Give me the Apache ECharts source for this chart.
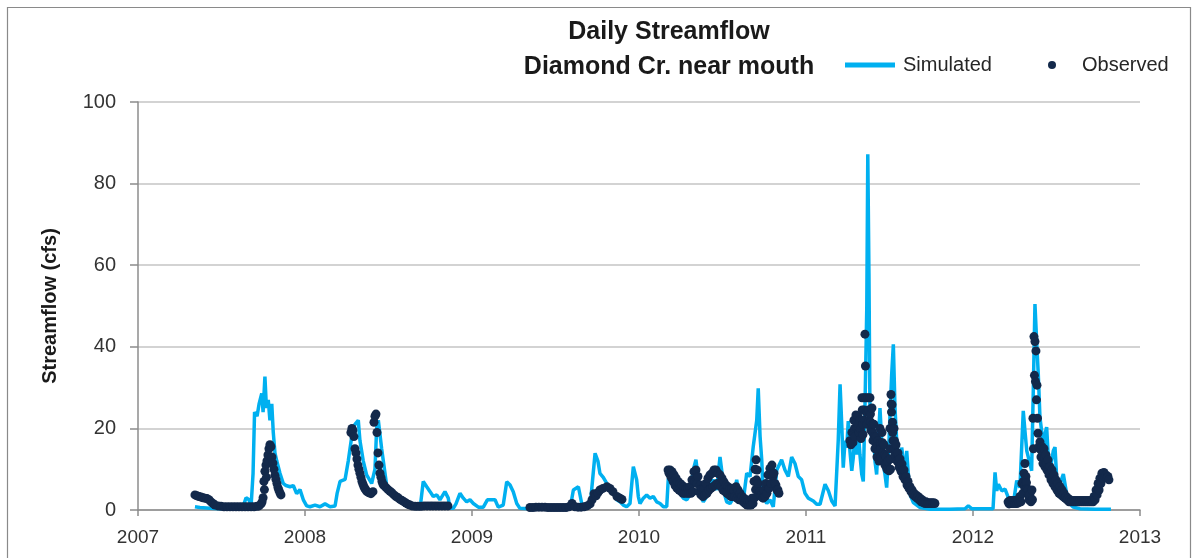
<!DOCTYPE html>
<html>
<head>
<meta charset="utf-8">
<script src="https://cdn.jsdelivr.net/npm/echarts@6/dist/echarts.min.js"></script>
<style>
html,body{margin:0;padding:0;background:#fff;}
#chart{width:1201px;height:558px;}
</style>
</head>
<body>
<div id="chart"></div>
<script>
// ---- Data (decimal years, streamflow in cfs) ----
var titleLines = ['Daily Streamflow', 'Diamond Cr. near mouth'];
var seriesNames = ['Simulated', 'Observed'];
var yAxisName = 'Streamflow (cfs)';

var simYear = [
2007.341,2007.371,2007.431,2007.491,2007.551,2007.611,2007.635,2007.647,2007.665,2007.677,
2007.689,2007.698,2007.713,2007.725,2007.741,2007.749,2007.760,2007.769,2007.780,2007.790,
2007.801,2007.810,2007.820,2007.831,2007.850,2007.870,2007.886,2007.910,2007.930,2007.950,
2007.970,2007.990,2008.010,2008.030,2008.060,2008.090,2008.120,2008.150,2008.180,2008.192,
2008.210,2008.240,2008.259,2008.280,2008.299,2008.319,2008.329,2008.349,2008.369,2008.399,
2008.419,2008.429,2008.439,2008.459,2008.489,2008.509,2008.549,2008.609,2008.629,2008.659,
2008.689,2008.708,2008.729,2008.749,2008.768,2008.789,2008.808,2008.838,2008.858,2008.868,
2008.888,2008.904,2008.928,2008.948,2008.968,2008.988,2009.008,2009.038,2009.068,2009.092,
2009.118,2009.138,2009.157,2009.187,2009.208,2009.228,2009.247,2009.268,2009.287,2009.347,
2009.467,2009.587,2009.607,2009.637,2009.657,2009.677,2009.707,2009.737,2009.754,2009.766,
2009.786,2009.807,2009.826,2009.846,2009.866,2009.886,2009.906,2009.926,2009.946,2009.966,
2009.976,2009.986,2009.996,2010.006,2010.026,2010.046,2010.066,2010.086,2010.106,2010.126,
2010.146,2010.166,2010.175,2010.186,2010.205,2010.226,2010.246,2010.265,2010.286,2010.305,
2010.325,2010.341,2010.355,2010.365,2010.385,2010.405,2010.425,2010.445,2010.465,2010.485,
2010.495,2010.505,2010.525,2010.545,2010.565,2010.585,2010.605,2010.625,2010.645,2010.665,
2010.684,2010.705,2010.714,2010.725,2010.735,2010.744,2010.765,2010.784,2010.804,2010.825,
2010.854,2010.874,2010.894,2010.914,2010.934,2010.954,2010.974,2010.994,2011.014,2011.044,
2011.064,2011.084,2011.114,2011.134,2011.154,2011.174,2011.193,2011.204,2011.214,2011.223,
2011.234,2011.244,2011.253,2011.263,2011.274,2011.283,2011.293,2011.304,2011.313,2011.323,
2011.334,2011.343,2011.353,2011.364,2011.370,2011.377,2011.383,2011.393,2011.403,2011.413,
2011.423,2011.433,2011.443,2011.453,2011.463,2011.473,2011.483,2011.493,2011.503,2011.513,
2011.523,2011.533,2011.543,2011.553,2011.563,2011.573,2011.583,2011.593,2011.603,2011.613,
2011.623,2011.643,2011.683,2011.743,2011.862,2011.952,2011.972,2011.994,2012.120,2012.132,
2012.142,2012.152,2012.172,2012.192,2012.211,2012.222,2012.241,2012.262,2012.281,2012.301,
2012.311,2012.322,2012.341,2012.351,2012.361,2012.371,2012.381,2012.391,2012.401,2012.411,
2012.421,2012.431,2012.441,2012.451,2012.461,2012.481,2012.491,2012.501,2012.521,2012.541,
2012.561,2012.581,2012.601,2012.641,2012.731,2012.826
];
var simCfs = [
0.8,0.6,0.4,0.3,0.3,0.3,1.5,3,2.5,0.8,
9,24,23,26,28.6,24,32.7,25,27,22,
26,19,14,12,9,6.5,6,5.7,6,4,
5,2.5,1,0.8,1.2,0.8,1.5,0.8,1,4,
7,7.5,12,18,21,22,17,12,8.6,6.5,
10,20,22,15,6,4.9,3.3,1,0.8,0.5,
0.4,7,5.7,4.5,3.3,3.7,2.5,4.5,2.9,0.4,
0.4,1.5,4.1,2.9,2.0,2.5,1.6,0.7,0.7,2.5,
2.5,2.5,0.7,1.2,6.9,6.1,4.5,1.6,0.4,0.3,
0.3,0.3,4.9,5.7,1.6,0.4,0.8,13.9,12,9,
8,6.5,4.9,4.1,2.5,2.0,1.2,0.8,1.6,10.6,
11,7.4,3.3,1.6,2.9,3.7,2.9,3.3,2.0,1.6,
0.8,0.8,7.4,9.8,8.2,5.3,4.1,2.9,2.5,3.7,
9.8,12.3,7.4,4.1,2.0,3.3,6.5,7.4,4.9,13,
9.8,4.9,2.0,1.6,2.9,7.4,2.0,2.5,9.0,8.2,
15.5,22,29.8,18,12.3,3.3,1.6,2.5,0.8,9.8,
12.3,9.8,8.2,13,11.4,8.2,7.4,4.1,2.9,2.2,
1.4,1.4,6.3,4.7,2.2,1.0,17,30.8,21,10.4,
17,15.3,21.8,14.5,9.6,12.8,18.5,13.6,19.4,13.6,
8.7,7.0,25,49.6,87.2,57.9,23.4,16.9,21,12,
8.7,17,25,17,11.3,8.7,5.5,12.8,23.4,33.2,
40.6,25,17,12.8,9.6,15.3,12,7.9,14.5,8.7,
3.8,1.8,0.6,0.2,0.2,0.3,1.0,0.3,0.3,9.2,
4.7,6.3,4.7,5.1,3.1,1.1,1.5,7.2,5.5,24.3,
19.4,14.5,11.3,9.6,29.4,50.5,41.4,33.2,22.6,19.4,
14.5,18.6,20.3,12.9,9.6,14.5,15.4,8.0,6.4,8.8,
3.9,1.5,0.7,0.3,0.2,0.2
];

// Observed, 2007-2009
var obsYear = [
2007.341,2007.353,2007.365,2007.377,2007.389,2007.401,2007.413,2007.425,2007.437,2007.449,
2007.461,2007.479,2007.497,2007.515,2007.533,2007.551,2007.569,2007.587,2007.605,2007.623,
2007.641,2007.659,2007.677,2007.695,2007.713,2007.725,2007.737,2007.743,2007.749,2007.754,
2007.757,2007.760,2007.766,2007.769,2007.772,2007.778,2007.784,2007.790,2007.796,2007.802,
2007.808,2007.814,2007.820,2007.826,2007.832,2007.838,2007.844,2007.850,2007.856,
2008.275,2008.281,2008.287,2008.293,2008.299,2008.305,2008.311,2008.317,2008.323,2008.329,
2008.335,2008.341,2008.347,2008.353,2008.359,2008.365,2008.371,2008.383,2008.395,2008.407,
2008.413,2008.419,2008.425,2008.431,2008.437,2008.443,2008.449,2008.455,2008.461,2008.467,
2008.473,2008.485,2008.497,2008.509,2008.521,2008.533,2008.545,2008.557,2008.569,2008.581,
2008.593,2008.605,2008.617,2008.629,2008.641,2008.659,2008.677,2008.695,2008.713,2008.731,
2008.749,2008.766,2008.784,2008.802,2008.820,2008.838,2008.856,
2009.347,2009.365,2009.383,2009.401,2009.419,2009.437,2009.455,2009.473,2009.491,2009.509,
2009.527,2009.545,2009.563,2009.581,2009.599,2009.617,2009.635,2009.653,2009.671,2009.689,
2009.707,2009.719,2009.731,2009.743,2009.754,2009.766,2009.784,2009.808,2009.826,2009.844,
2009.868,2009.886,2009.898
];
var obsCfs = [
3.7,3.5,3.3,3.2,3.0,2.9,2.8,2.5,2.0,1.6,
1.2,1.0,0.9,0.8,0.8,0.8,0.8,0.8,0.8,0.8,
0.8,0.8,0.8,0.8,0.9,1.0,1.5,2.0,3.0,7,
5,9.5,11,8,12,13.5,15,16,15.5,13,
11.5,10,8.5,7.5,6.5,5.5,4.8,4.2,3.7,
19,20,19.5,18,15,14,12.5,11,10,9,
8,7,6.3,5.7,5.2,4.9,4.5,4.2,4.0,4.5,
21.5,23,23.5,19,14,11,9,8,7,6.3,
6,5.5,5,4.6,4.2,3.7,3.3,3.0,2.6,2.3,
2.0,1.7,1.4,1.2,1.0,0.9,0.9,0.9,1.0,1.0,
1.0,1.0,1.0,1.0,1.0,1.0,1.0,
0.6,0.6,0.7,0.7,0.7,0.7,0.6,0.6,0.6,0.6,
0.6,0.6,0.6,0.8,1.6,0.8,0.7,0.7,0.8,1.0,
1.5,2.5,4.0,3.5,4.2,4.9,5.3,5.7,5.3,4.5,
3.3,2.9,2.6
];

// Observed, 2010
var obs2010Year = [
2010.174,2010.180,2010.186,2010.192,2010.198,2010.204,2010.210,2010.216,2010.222,2010.228,
2010.234,2010.240,2010.246,2010.252,2010.257,2010.263,2010.269,2010.275,2010.281,2010.287,
2010.293,2010.299,2010.305,2010.311,2010.317,2010.323,2010.329,2010.335,2010.341,2010.347,
2010.353,2010.359,2010.365,2010.371,2010.377,2010.383,2010.389,2010.395,2010.401,2010.407,
2010.413,2010.419,2010.425,2010.431,2010.437,2010.443,2010.449,2010.455,2010.461,2010.467,
2010.473,2010.479,2010.485,2010.491,2010.497,2010.503,2010.509,2010.515,2010.521,2010.527,
2010.533,2010.539,2010.545,2010.551,2010.557,2010.563,2010.569,2010.575,2010.581,2010.587,
2010.593,2010.599,2010.605,2010.611,2010.617,2010.623,2010.629,2010.635,2010.641,2010.647,
2010.653,2010.659,2010.665,2010.671,2010.677,2010.683,2010.689,2010.692,2010.695,2010.698,
2010.701,2010.704,2010.707,2010.710,2010.713,2010.719,2010.725,2010.731,2010.737,2010.743,
2010.749,2010.755,2010.760,2010.766,2010.772,2010.778,2010.784,2010.790,2010.796,2010.802,
2010.808,2010.814,2010.820,2010.826,2010.832,2010.838
];
var obs2010Cfs = [
9.8,9.0,9.8,8.0,9.4,7.0,8.6,6.0,7.8,5.3,
7.0,4.9,6.5,4.5,6.1,4.1,5.7,4.1,5.3,4.1,
5.3,4.1,5.7,4.1,7.4,4.5,9.4,7.0,9.8,6.5,
8.2,4.5,6.1,3.7,5.3,3.3,5.3,3.7,6.5,4.1,
7.8,4.9,8.6,5.3,9.0,5.7,9.8,6.1,9.8,6.5,
9.0,6.1,8.6,5.7,7.8,4.9,6.9,4.5,6.1,4.1,
5.7,3.7,5.3,3.3,5.3,3.3,4.9,3.3,5.7,2.9,
4.9,2.5,4.1,2.5,3.3,2.0,2.9,1.6,2.5,1.2,
2.0,1.2,2.0,1.2,2.9,1.6,7.0,3.0,10.0,5.0,
12.3,7.4,9.8,4.9,6.5,4.1,4.5,3.3,4.1,2.9,
4.9,3.3,6.5,4.1,8.6,5.3,10.2,6.5,11.0,8.2,
9.0,6.5,6.1,4.9,4.9,4.1
];

// Observed, 2011
var obs2011Year = [
2011.263,2011.269,2011.275,2011.281,2011.287,2011.290,2011.293,2011.299,2011.302,2011.305,
2011.311,2011.314,2011.317,2011.323,2011.326,2011.329,2011.335,2011.337,2011.338,2011.339,
2011.341,2011.347,2011.348,2011.350,2011.353,2011.356,2011.359,2011.362,2011.365,2011.371,
2011.374,2011.377,2011.383,2011.386,2011.387,2011.389,2011.395,2011.398,2011.399,2011.401,
2011.407,2011.410,2011.413,2011.419,2011.422,2011.425,2011.431,2011.434,2011.437,2011.443,
2011.446,2011.447,2011.449,2011.455,2011.458,2011.461,2011.467,2011.470,2011.473,2011.479,
2011.482,2011.485,2011.491,2011.497,2011.503,2011.504,2011.505,2011.506,2011.509,2011.510,
2011.512,2011.515,2011.518,2011.519,2011.521,2011.527,2011.530,2011.531,2011.533,2011.539,
2011.542,2011.545,2011.551,2011.554,2011.557,2011.563,2011.566,2011.569,2011.575,2011.578,
2011.581,2011.587,2011.593,2011.599,2011.605,2011.611,2011.617,2011.623,2011.629,2011.635,
2011.641,2011.647,2011.653,2011.659,2011.665,2011.671,2011.677,2011.683,2011.689,2011.695,
2011.701,2011.707,2011.713,2011.719,2011.725,2011.731,2011.737,2011.743,2011.749,2011.754,
2011.760,2011.766,2011.772
];
var obs2011Cfs = [
17,16,19,16.5,22,20,18,23.3,21.6,20,
23,21,19,22,19.8,17.5,27.5,24.5,22,21,
18.5,27.5,24.5,22,43.1,35.3,27.5,24,21,27.5,
24.5,22,27.5,23.5,21.5,19.5,25,21,19,17,
21,18,15,18,15.5,13,17,14.5,12,20,
16.5,15,13,19,16.5,14,16,13.5,11,13,
11.5,10,12,9.6,20,15,12.5,10,28.3,26,
24,25.8,21.5,19,17,20,17,15.3,13.5,16,
14,12,14,12.3,10.5,12.5,11,9.5,11.3,9.8,
8.2,9.8,7.4,8.2,6.1,7.0,5.3,5.7,4.5,4.9,
3.7,4.1,3.3,3.7,2.9,3.3,2.5,2.9,2.0,2.5,
1.8,2.0,1.6,2.0,1.6,1.8,1.6,1.8,1.6,1.8,
1.6,1.8,1.6
];

// Observed, 2012
var obs2012Year = [
2012.210,2012.216,2012.222,2012.228,2012.234,2012.240,2012.246,2012.252,2012.257,2012.263,
2012.269,2012.275,2012.281,2012.287,2012.293,2012.299,2012.302,2012.305,2012.308,2012.311,
2012.314,2012.317,2012.320,2012.323,2012.329,2012.332,2012.335,2012.341,2012.347,2012.353,
2012.356,2012.359,2012.362,2012.365,2012.368,2012.371,2012.374,2012.377,2012.380,2012.383,
2012.386,2012.389,2012.395,2012.401,2012.404,2012.407,2012.413,2012.416,2012.419,2012.425,
2012.428,2012.431,2012.437,2012.440,2012.443,2012.449,2012.452,2012.455,2012.461,2012.464,
2012.467,2012.473,2012.476,2012.479,2012.485,2012.491,2012.497,2012.503,2012.509,2012.515,
2012.521,2012.527,2012.533,2012.539,2012.545,2012.551,2012.557,2012.563,2012.569,2012.575,
2012.581,2012.587,2012.593,2012.599,2012.605,2012.611,2012.617,2012.623,2012.629,2012.635,
2012.641,2012.647,2012.653,2012.659,2012.665,2012.671,2012.677,2012.683,2012.689,2012.695,
2012.701,2012.707,2012.713,2012.719,2012.725,2012.731,2012.737,2012.743,2012.749,2012.755,
2012.760,2012.766,2012.772,2012.778,2012.784,2012.790,2012.796,2012.802,2012.808,2012.814
];
var obs2012Cfs = [
2.0,1.5,2.3,1.6,2.3,1.6,2.3,1.6,2.3,1.6,
2.5,1.8,3.3,2.0,6.5,4.1,7.0,9.0,5.7,11.4,
7.4,8.2,6.7,5.3,4.9,3.7,2.5,3.7,2.0,4.9,
2.5,22.5,15,42.5,33,41.3,31.5,39,27,30.6,
22.5,18.8,15.5,16.7,14.8,13,15.5,13.4,11.4,15.0,
12.8,10.6,13.5,11.6,9.8,12.3,10.4,8.6,10.6,9.0,
7.4,9.8,8.1,6.5,8.6,5.7,7.4,4.9,6.5,4.1,
5.7,3.7,4.9,3.3,4.1,2.9,3.3,2.5,2.9,2.0,
2.5,2.0,2.3,2.0,2.3,2.0,2.3,2.0,2.3,2.0,
2.3,2.0,2.3,2.0,2.3,2.0,2.3,2.0,2.3,2.0,
2.3,2.0,2.3,2.0,3.3,2.5,4.9,3.7,6.5,4.9,
7.8,6.5,9.0,7.8,9.2,8.2,8.6,7.8,8.2,7.4
];

// ---- Build chart ----
var FONT = '"Liberation Sans", Arial, sans-serif';
function pairs(ts, vs) { return ts.map(function (t, i) { return [t, vs[i]]; }); }
var simData = pairs(simYear, simCfs);
var obsData = pairs(obsYear, obsCfs)
  .concat(pairs(obs2010Year, obs2010Cfs))
  .concat(pairs(obs2011Year, obs2011Cfs))
  .concat(pairs(obs2012Year, obs2012Cfs));

var chart = echarts.init(document.getElementById('chart'), null, {renderer: 'canvas'});
chart.setOption({
  animation: false,
  backgroundColor: '#ffffff',
  textStyle: {fontFamily: FONT},
  graphic: [{
    type: 'rect', silent: true, z: -10,
    shape: {x: 7.5, y: 7.5, width: 1183, height: 600},
    style: {fill: 'none', stroke: '#8a8a8a', lineWidth: 1.2}
  }],
  title: {
    text: titleLines.join('\n'),
    left: 669, top: 15, textAlign: 'center', padding: 0,
    textStyle: {fontFamily: FONT, fontSize: 25, fontWeight: 'bold', color: '#1a1a1a', lineHeight: 35}
  },
  legend: [{
    data: [{name: seriesNames[0], icon: 'rect'}],
    left: 845, top: 55, padding: 0,
    itemWidth: 50, itemHeight: 5, itemGap: 0,
    textStyle: {fontFamily: FONT, fontSize: 20, color: '#262626', padding: [0, 0, 0, 3]}
  }, {
    data: [{name: seriesNames[1], icon: 'circle'}],
    left: 1048, top: 55, padding: 0,
    itemWidth: 50, itemHeight: 8, itemGap: 0,
    textStyle: {fontFamily: FONT, fontSize: 20, color: '#262626'}
  }],
  grid: {left: 138, right: 61, top: 102, bottom: 48, containLabel: false},
  xAxis: {
    type: 'value', min: 2007, max: 2013, interval: 1,
    axisLine: {show: true, lineStyle: {color: '#8c8c8c', width: 1.5}},
    axisTick: {show: true, length: 6, lineStyle: {color: '#8c8c8c', width: 1.5}},
    axisLabel: {fontFamily: FONT, fontSize: 19, color: '#333333', margin: 18,
      formatter: function (v) { return String(v); }},
    splitLine: {show: false}
  },
  yAxis: {
    type: 'value', min: 0, max: 100, interval: 20,
    name: yAxisName, nameLocation: 'middle', nameRotate: 90, nameGap: 78,
    nameTextStyle: {fontFamily: FONT, fontSize: 20, fontWeight: 'bold', color: '#1a1a1a'},
    axisLine: {show: true, lineStyle: {color: '#8c8c8c', width: 1.5}},
    axisTick: {show: true, length: 8, lineStyle: {color: '#8c8c8c', width: 1.5}},
    axisLabel: {fontFamily: FONT, fontSize: 20, color: '#333333', margin: 22},
    splitLine: {show: true, lineStyle: {color: '#c4c4c4', width: 1.5}}
  },
  series: [{
    name: seriesNames[0], type: 'line', data: simData,
    showSymbol: false, symbol: 'none', z: 2,
    itemStyle: {color: '#00b0f0'},
    lineStyle: {color: '#00b0f0', width: 3.5}
  }, {
    name: seriesNames[1], type: 'scatter', data: obsData,
    symbol: 'circle', symbolSize: 9, z: 3,
    itemStyle: {color: '#13294b', opacity: 1}
  }]
});
</script>
</body>
</html>
